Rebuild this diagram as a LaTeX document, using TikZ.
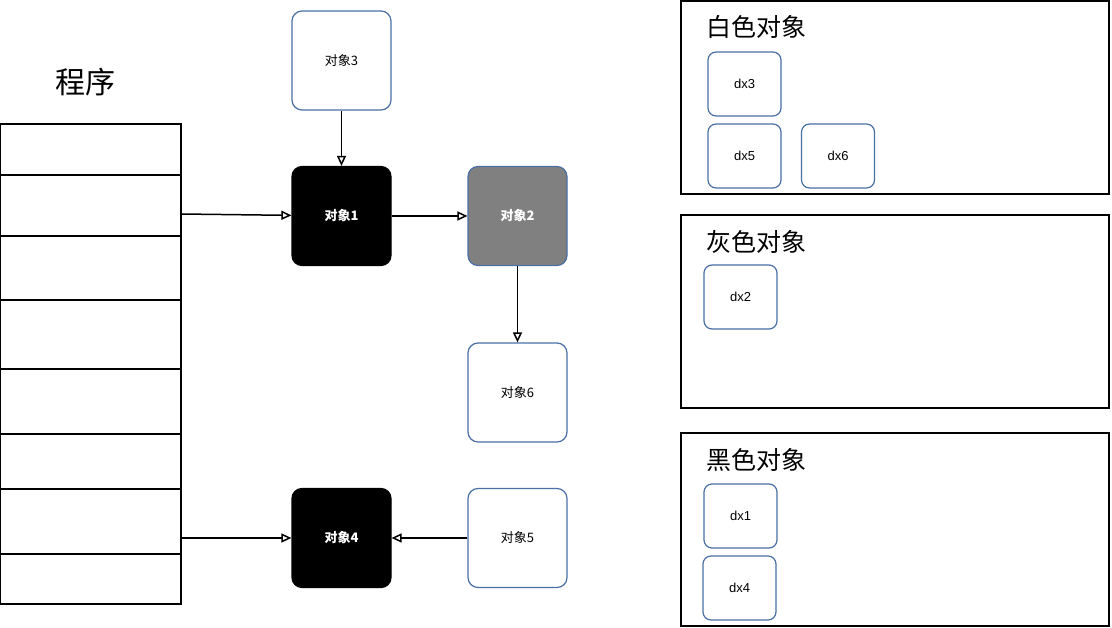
\documentclass[tikz,border=0pt]{standalone}
\usepackage{fontspec}
\setmainfont{Liberation Sans}
\newfontfamily\cjk{Noto Sans CJK SC}
\usetikzlibrary{arrows.meta}
\definecolor{bb}{HTML}{4A6FA5}
\begin{document}
\begin{tikzpicture}[x=1pt,y=-1pt,
  obj/.style={draw=bb,line width=1.2pt,rounded corners=10pt,minimum width=99pt,minimum height=99pt,inner sep=0pt,font=\cjk\fontsize{13}{13}\selectfont},
  blk/.style={obj,draw=black,fill=black,text=white,font=\cjk\bfseries\fontsize{13}{13}\selectfont},
  dx/.style={draw=bb,line width=1.2pt,rounded corners=8pt,minimum width=73pt,minimum height=64pt,inner sep=0pt,font=\fontsize{13}{13}\selectfont},
  cell/.style={draw,line width=1.2pt},
  panel/.style={draw,line width=1.2pt},
  ttl/.style={font=\cjk\fontsize{25}{25}\selectfont,anchor=west},
  arr/.style={-{Stealth[length=10pt,width=9pt,inset=0pt,open]},line width=1.5pt,shorten >=0pt}]
\useasboundingbox (0,0) rectangle (1112,628);
\node[font=\cjk\fontsize{30}{30}\selectfont] (t) at (85,82) {程序};
\foreach \a/\b [count=\i] in {124/175,175/236,236/300,300/369,369/434,434/489,489/554,554/604}
  \draw[cell] (0,\a) rectangle (181,\b);
\coordinate (s1) at (181,214);
\coordinate (s2) at (181,538);
\node[obj] (o3) at (341.5,60.5) {对象3};
\node[blk] (o1) at (341.5,216) {对象1};
\node[obj,fill=gray!100,fill=black!50,text=white,font=\cjk\bfseries\fontsize{13}{13}\selectfont] (o2) at (517.5,216) {对象2};
\node[obj] (o6) at (517.5,392.5) {对象6};
\node[blk] (o4) at (341.5,538) {对象4};
\node[obj] (o5) at (517.5,538) {对象5};
\draw[arr] (s1) -- (o1);
\draw[arr] (s2) -- (o4);
\draw[arr] (o3) -- (o1);
\draw[arr] (o1) -- (o2);
\draw[arr] (o2) -- (o6);
\draw[arr] (o5) -- (o4);
\draw[panel] (681,1) rectangle (1109,194);
\node[ttl] (w) at (703,27) {白色对象};
\node[dx] (d3) at (744.5,84) {dx3};
\node[dx] (d5) at (744.5,156) {dx5};
\node[dx] (d6) at (838,156) {dx6};
\draw[panel] (681,215) rectangle (1109,408);
\node[ttl] (g) at (703,242) {灰色对象};
\node[dx] (d2) at (740.5,297) {dx2};
\draw[panel] (681,433) rectangle (1109,626);
\node[ttl] (b) at (703,460) {黑色对象};
\node[dx] (d1) at (740.5,516) {dx1};
\node[dx] (d4) at (739.5,588) {dx4};
\end{tikzpicture}
\end{document}
